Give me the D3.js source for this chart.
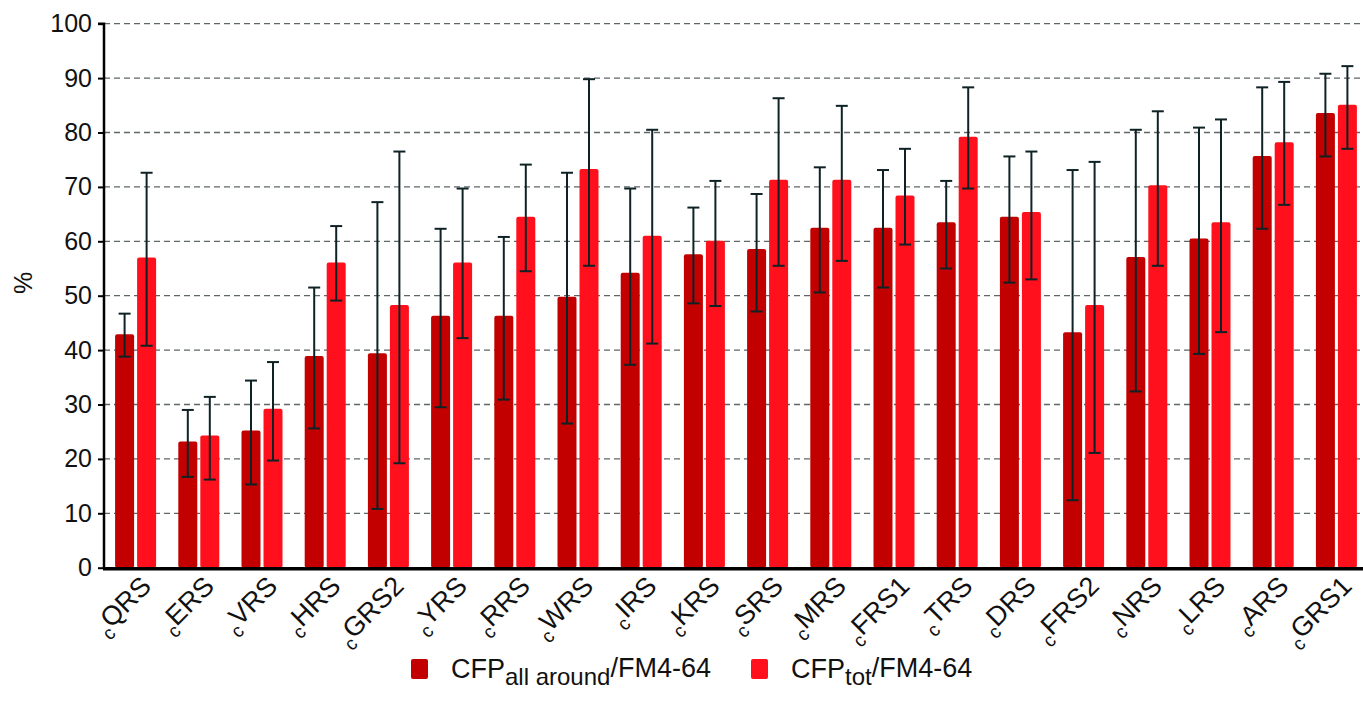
<!DOCTYPE html>
<html><head><meta charset="utf-8">
<script src="https://cdn.jsdelivr.net/npm/d3@7"></script>
<style>
html,body{margin:0;padding:0;background:#fff;}
svg{display:block;font-family:"Liberation Sans",Arial,sans-serif;}
</style></head>
<body><svg id="chart" width="1363" height="713"></svg>
<script>
const categories = ["QRS","ERS","VRS","HRS","GRS2","YRS","RRS","WRS","IRS","KRS","SRS","MRS","FRS1","TRS","DRS","FRS2","NRS","LRS","ARS","GRS1"];
const allAround     = [42.9,23.2,25.2,38.9,39.4,46.3,46.3,49.8,54.2,57.6,58.6,62.5,62.5,63.5,64.5,43.3,57.1,60.5,75.7,83.6];
const allAroundLow  = [38.8,16.7,15.3,25.6,10.8,29.5,30.9,26.5,37.3,48.6,47.1,50.6,51.5,55.0,52.4,12.4,32.4,39.3,62.3,75.6];
const allAroundHigh = [46.7,29.0,34.4,51.5,67.2,62.3,60.8,72.6,69.7,66.2,68.7,73.6,73.1,71.1,75.6,73.1,80.5,80.9,88.3,90.8];
const tot     = [57.0,24.3,29.2,56.1,48.3,56.1,64.5,73.3,61.0,60.1,71.3,71.3,68.4,79.2,65.4,48.3,70.3,63.5,78.2,85.1];
const totLow  = [40.8,16.2,19.7,49.1,19.2,42.2,54.5,55.5,41.2,48.1,55.5,56.4,59.4,69.7,53.0,21.1,55.5,43.3,66.7,77.0];
const totHigh = [72.6,31.4,37.8,62.8,76.5,69.7,74.1,89.8,80.5,71.1,86.3,84.9,77.0,88.3,76.5,74.6,83.9,82.4,89.3,92.2];
const yTicks = [0,10,20,30,40,50,60,70,80,90,100];
const seriesNames = [["CFP","all around","/FM4-64"],["CFP","tot","/FM4-64"]];
const colors = ["#c30000","#ff101c"];

const svg = d3.select("#chart");
const pLeft = 104, pRight = 1368, pTop = 23.7, pBottom = 567.7;
const x = d3.scaleBand().domain(categories).range([pLeft, pRight]).paddingInner(0).paddingOuter(0);
const y = d3.scaleLinear().domain([0,100]).range([pBottom, pTop]);
const barW = 19, gap = 3;

// grid
svg.append("g").selectAll("line").data(yTicks.filter(d=>d>0)).join("line")
  .attr("x1", pLeft).attr("x2", 1363)
  .attr("y1", d=>y(d)).attr("y2", d=>y(d))
  .attr("stroke","#5f6666").attr("stroke-width",1.3).attr("stroke-dasharray","6,4");

const series = [
  {vals: allAround, lo: allAroundLow, hi: allAroundHigh, off: -(barW+gap/2)},
  {vals: tot, lo: totLow, hi: totHigh, off: gap/2}
];
series.forEach((s,si)=>{
  const g = svg.append("g");
  g.selectAll("rect").data(categories).join("rect")
    .attr("x",(c)=>x(c)+x.bandwidth()/2+s.off)
    .attr("y",(c,i)=>y(s.vals[i]))
    .attr("width",barW)
    .attr("height",(c,i)=>y(0)-y(s.vals[i]))
    .attr("rx",2)
    .attr("fill",colors[si]);
});
series.forEach((s,si)=>{
  const g = svg.append("g").attr("stroke","#0e2226").attr("stroke-width",2);
  categories.forEach((c,i)=>{
    const cx = x(c)+x.bandwidth()/2+s.off+barW/2;
    g.append("line").attr("x1",cx).attr("x2",cx).attr("y1",y(s.lo[i])).attr("y2",y(s.hi[i]));
    g.append("line").attr("x1",cx-6).attr("x2",cx+6).attr("y1",y(s.lo[i])).attr("y2",y(s.lo[i]));
    g.append("line").attr("x1",cx-6).attr("x2",cx+6).attr("y1",y(s.hi[i])).attr("y2",y(s.hi[i]));
  });
});

// y axis
const yAxis = d3.axisLeft(y).tickValues(yTicks).tickSize(6).tickPadding(6);
const ya = svg.append("g").attr("transform",`translate(${pLeft},0)`).call(yAxis);
ya.select(".domain").attr("stroke","#000").attr("stroke-width",2.5).attr("d",`M-6,${pTop}H0V${pBottom}`);
ya.selectAll(".tick line").attr("stroke","#000").attr("stroke-width",2);
ya.selectAll(".tick text").attr("font-size",25).attr("fill","#111").attr("font-family","Liberation Sans, Arial, sans-serif");

// x axis line
svg.append("line").attr("x1",pLeft-1).attr("x2",1363).attr("y1",pBottom+1).attr("y2",pBottom+1)
  .attr("stroke","#000").attr("stroke-width",3.5);

// x labels
const xl = svg.append("g");
categories.forEach(c=>{
  const cx = x(c)+x.bandwidth()/2;
  const t = xl.append("text").attr("transform",`translate(${cx+17},${pBottom+20}) rotate(-45)`)
    .attr("text-anchor","end").attr("font-size",27).attr("fill","#111");
  t.append("tspan").attr("font-size",19).attr("dy","0.4em").text("c");
  t.append("tspan").attr("dy","-0.28em").text(c);
});

// y label
svg.append("text").attr("transform","translate(32,283) rotate(-90)").attr("text-anchor","middle")
  .attr("font-size",25).attr("fill","#111").text("%");

// legend
const legendX = [411, 751];
seriesNames.forEach((n,i)=>{
  const g = svg.append("g").attr("transform",`translate(${legendX[i]},659)`);
  g.append("rect").attr("width",17).attr("height",20).attr("rx",2).attr("fill",colors[i]);
  const t = g.append("text").attr("x",40).attr("y",19).attr("font-size",27).attr("fill","#111");
  t.append("tspan").text(n[0]);
  t.append("tspan").attr("font-size",24).attr("dy","0.3em").text(n[1]);
  t.append("tspan").attr("dy","-0.3em").text(n[2]);
});
</script></body></html>
